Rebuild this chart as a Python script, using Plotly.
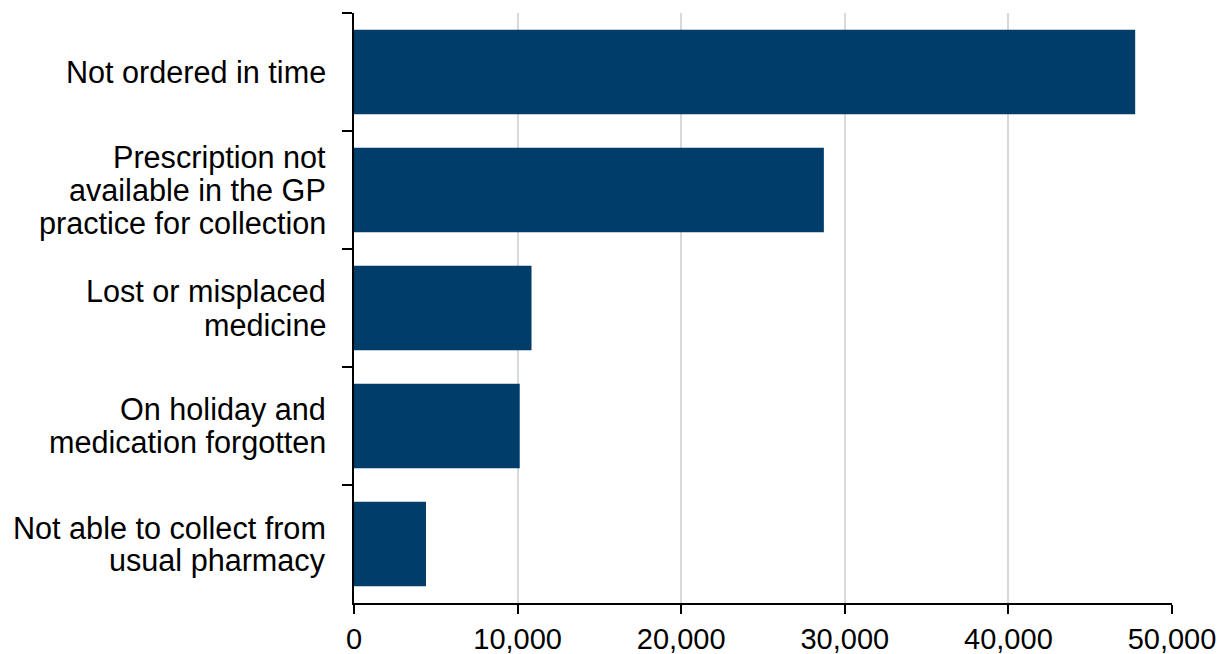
import plotly.graph_objects as go

categories = [
    "Not ordered in time",
    "Prescription not<br>available in the GP<br>practice for collection",
    "Lost or misplaced<br>medicine",
    "On holiday and<br>medication forgotten",
    "Not able to collect from<br>usual pharmacy",
]
values = [47750, 28720, 10850, 10130, 4400]
x_ticks = [0, 10000, 20000, 30000, 40000, 50000]

FONT = "Liberation Sans, Arial, sans-serif"
LABEL_SIZE = 30.6
LINE_STEP = 33

fig = go.Figure(
    go.Bar(
        x=values,
        y=categories,
        orientation="h",
        marker=dict(color="#003D6B", line=dict(width=0)),
        hoverinfo="x+y",
    )
)

# category labels, one annotation per line so the line spacing matches
for cat in categories:
    lines = cat.split("<br>")
    n = len(lines)
    for i, line in enumerate(lines):
        fig.add_annotation(
            x=0, xref="paper", xanchor="right", xshift=-27,
            y=cat, yref="y", yanchor="middle",
            yshift=-(i - (n - 1) / 2) * LINE_STEP,
            text=line, showarrow=False, align="right",
            font=dict(family=FONT, size=LABEL_SIZE, color="#000000"),
            borderpad=0,
        )

fig.update_layout(
    template="none",
    width=1220,
    height=654,
    margin=dict(l=354, r=48, t=12.5, b=50.5, autoexpand=False),
    paper_bgcolor="white",
    plot_bgcolor="white",
    bargap=0.285,
    showlegend=False,
    font=dict(family=FONT, size=LABEL_SIZE, color="#000000"),
)

fig.update_xaxes(
    automargin=False,
    range=[0, 50000],
    tickvals=x_ticks,
    tickformat=",",
    showgrid=True,
    gridcolor="#D9D9D9",
    gridwidth=1.5,
    zeroline=False,
    showline=True,
    linecolor="#000000",
    linewidth=1.5,
    ticks="outside",
    ticklen=9,
    tickwidth=1.5,
    tickcolor="#000000",
    ticklabelstandoff=0,
    tickfont=dict(size=29),
)

fig.update_yaxes(
    automargin=False,
    categoryorder="array",
    categoryarray=categories,
    autorange="reversed",
    showgrid=False,
    zeroline=False,
    showline=True,
    linecolor="#000000",
    linewidth=2,
    ticks="outside",
    tickson="boundaries",
    ticklen=10,
    tickwidth=1.5,
    tickcolor="#000000",
    showticklabels=False,
)

fig.write_html(
    "out.html",
    config={"displayModeBar": False},
    post_script="document.body.style.margin='0';document.body.style.padding='0';document.body.style.overflow='hidden';",
)
